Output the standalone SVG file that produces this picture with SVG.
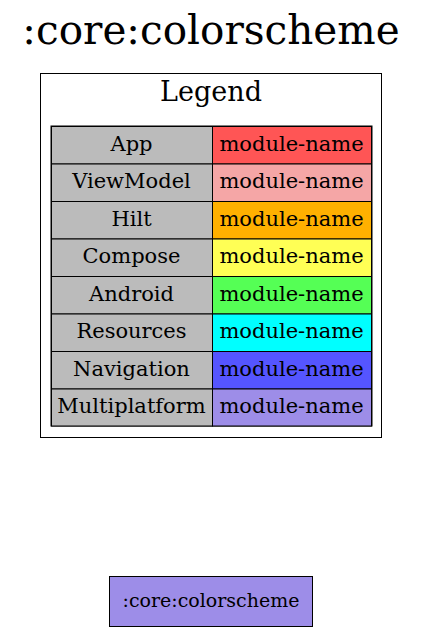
<svg xmlns="http://www.w3.org/2000/svg" width="422" height="632" viewBox="0 0 422 632">
<style>
text{font-family:"DejaVu Serif","Liberation Serif",serif;fill:#000;text-anchor:middle}
.cell{stroke:#000;stroke-width:1}
.k{fill:#bbbbbb}
.t{font-size:21px}
</style>
<rect width="422" height="632" fill="#fff"/>
<text x="211" y="44" font-size="40.5">:core:colorscheme</text>
<g id="legend">
<rect x="40.5" y="73.5" width="341" height="364" fill="#fff" stroke="#000"/>
<text x="211" y="101" font-size="27">Legend</text>
<rect x="51" y="126" width="321" height="300" fill="#fff" stroke="#000"/>
<g class="t">
<rect class="cell k" x="51.5" y="126.5" width="161" height="37.5"/><text x="131.5" y="150.5">App</text>
<rect class="cell" fill="#ff5555" x="212.5" y="126.5" width="159" height="37.5"/><text x="291.5" y="150.5">module-name</text>
<rect class="cell k" x="51.5" y="164" width="161" height="37.5"/><text x="131.5" y="188">ViewModel</text>
<rect class="cell" fill="#f5a6a6" x="212.5" y="164" width="159" height="37.5"/><text x="291.5" y="188">module-name</text>
<rect class="cell k" x="51.5" y="201.5" width="161" height="37.5"/><text x="131.5" y="225.5">Hilt</text>
<rect class="cell" fill="#ffb000" x="212.5" y="201.5" width="159" height="37.5"/><text x="291.5" y="225.5">module-name</text>
<rect class="cell k" x="51.5" y="239" width="161" height="37.5"/><text x="131.5" y="263">Compose</text>
<rect class="cell" fill="#ffff55" x="212.5" y="239" width="159" height="37.5"/><text x="291.5" y="263">module-name</text>
<rect class="cell k" x="51.5" y="276.5" width="161" height="37.5"/><text x="131.5" y="300.5">Android</text>
<rect class="cell" fill="#55ff55" x="212.5" y="276.5" width="159" height="37.5"/><text x="291.5" y="300.5">module-name</text>
<rect class="cell k" x="51.5" y="314" width="161" height="37.5"/><text x="131.5" y="338">Resources</text>
<rect class="cell" fill="#00ffff" x="212.5" y="314" width="159" height="37.5"/><text x="291.5" y="338">module-name</text>
<rect class="cell k" x="51.5" y="351.5" width="161" height="37.5"/><text x="131.5" y="375.5">Navigation</text>
<rect class="cell" fill="#5555ff" x="212.5" y="351.5" width="159" height="37.5"/><text x="291.5" y="375.5">module-name</text>
<rect class="cell k" x="51.5" y="389" width="161" height="37"/><text x="131.5" y="413">Multiplatform</text>
<rect class="cell" fill="#9d8de8" x="212.5" y="389" width="159" height="37"/><text x="291.5" y="413">module-name</text>
</g>
</g>
<g id="connectors"></g>
<g id="core_colorscheme">
<rect x="109.5" y="576.5" width="203" height="50" fill="#9d8de8" stroke="#000"/>
<text x="211" y="607" font-size="19">:core:colorscheme</text>
</g>
</svg>
